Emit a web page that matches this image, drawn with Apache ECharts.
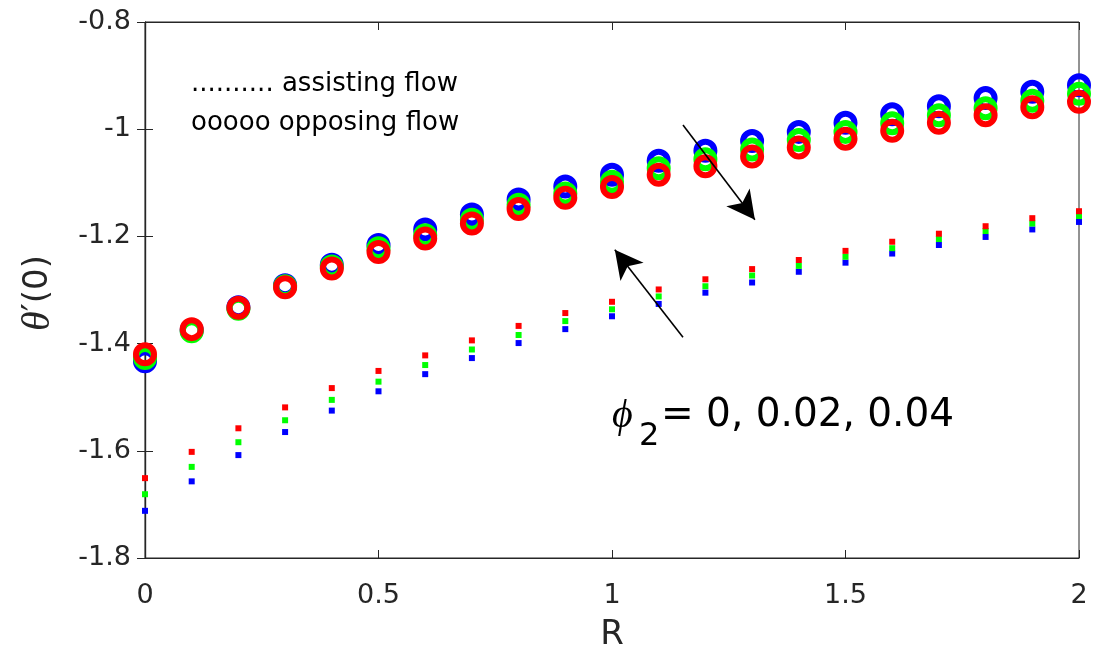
<!DOCTYPE html>
<html>
<head>
<meta charset="utf-8">
<script src="https://cdn.jsdelivr.net/npm/echarts@6/dist/echarts.min.js"></script>
<style>
  html, body { margin: 0; padding: 0; background: #ffffff; }
  #chart { width: 1094px; height: 664px; }
</style>
</head>
<body>
<div id="chart"></div>
<script>
// Buoyancy parameter R along the horizontal axis
const rValues = [0, 0.1, 0.2, 0.3, 0.4, 0.5, 0.6, 0.7, 0.8, 0.9, 1.0,
                 1.1, 1.2, 1.3, 1.4, 1.5, 1.6, 1.7, 1.8, 1.9, 2.0];

// theta'(0), assisting flow, for phi2 = 0, 0.02, 0.04
const assistPhi0 = [-1.712, -1.657, -1.608, -1.565, -1.525, -1.489, -1.457, -1.427, -1.399, -1.373, -1.349,
                    -1.326, -1.305, -1.286, -1.266, -1.249, -1.232, -1.216, -1.201, -1.187, -1.173];
const assistPhi2 = [-1.681, -1.630, -1.584, -1.543, -1.505, -1.471, -1.440, -1.411, -1.384, -1.358, -1.336,
                    -1.312, -1.293, -1.273, -1.255, -1.238, -1.222, -1.205, -1.190, -1.176, -1.162];
const assistPhi4 = [-1.651, -1.602, -1.558, -1.519, -1.483, -1.451, -1.422, -1.394, -1.367, -1.343, -1.322,
                    -1.299, -1.280, -1.261, -1.244, -1.227, -1.210, -1.195, -1.181, -1.166, -1.153];

// theta'(0), opposing flow, for phi2 = 0, 0.02, 0.04
const opposePhi0 = [-1.433, -1.375, -1.332, -1.291, -1.253, -1.216, -1.187, -1.159, -1.131, -1.107, -1.085,
                    -1.059, -1.040, -1.022, -1.005, -0.988, -0.972, -0.957, -0.942, -0.930, -0.918];
const opposePhi2 = [-1.427, -1.377, -1.335, -1.293, -1.256, -1.222, -1.198, -1.169, -1.141, -1.120, -1.098,
                    -1.073, -1.056, -1.038, -1.020, -1.005, -0.989, -0.974, -0.961, -0.947, -0.934];
const opposePhi4 = [-1.420, -1.373, -1.333, -1.295, -1.260, -1.229, -1.204, -1.176, -1.149, -1.128, -1.108,
                    -1.085, -1.069, -1.051, -1.034, -1.018, -1.003, -0.988, -0.974, -0.959, -0.949];

// Axis ranges and ticks
const xMin = 0, xMax = 2, xStep = 0.5;
const yMin = -1.8, yMax = -0.8, yStep = 0.2;

// Arrow annotations in data coordinates: [from, to]
const arrowDown = [[1.152, -0.992], [1.306, -1.169]];
const arrowUp = [[1.152, -1.388], [1.006, -1.225]];

const toPairs = (ys) => rValues.map((r, i) => [r, ys[i]]);
const fmt = (v) => String(Number(v.toFixed(2)));

const FONT = 'DejaVu Sans';
const AXIS_COLOR = '#262626';

function dots(name, ys, color) {
  return {
    name, type: 'scatter', data: toPairs(ys),
    symbol: 'rect', symbolSize: 6,
    itemStyle: { color, opacity: 1 },
    animation: false, silent: true
  };
}
function rings(name, ys, color) {
  return {
    name, type: 'scatter', data: toPairs(ys),
    symbol: 'circle', symbolSize: 18,
    itemStyle: { color: 'rgba(0,0,0,0)', borderColor: color, borderWidth: 6, opacity: 1 },
    animation: false, silent: true
  };
}

const tickStyle = { inside: true, length: 8, lineStyle: { color: AXIS_COLOR, width: 1 } };
const lineStyle = { show: true, lineStyle: { color: AXIS_COLOR, width: 1.2 } };

const arrowLine = (pts) => [
  { coord: pts[0], symbol: 'none' },
  { coord: pts[1], symbol: 'arrow', symbolSize: [22, 28] }
];

const option = {
  backgroundColor: '#ffffff',
  animation: false,
  grid: { left: 145, right: 15, top: 22, bottom: 106, show: true,
          borderColor: AXIS_COLOR, borderWidth: 1, backgroundColor: 'rgba(0,0,0,0)' },
  xAxis: [
    {
      type: 'value', min: xMin, max: xMax, interval: xStep,
      name: 'R', nameLocation: 'middle', nameGap: 60,
      nameTextStyle: { fontFamily: FONT, fontSize: 34, color: AXIS_COLOR },
      axisLine: lineStyle, axisTick: tickStyle, splitLine: { show: false },
      axisLabel: { formatter: fmt, fontFamily: FONT, fontSize: 27, color: AXIS_COLOR, margin: 24 }
    },
    {
      type: 'value', position: 'top', min: xMin, max: xMax, interval: xStep,
      axisLine: lineStyle, axisTick: tickStyle, splitLine: { show: false },
      axisLabel: { show: false }
    }
  ],
  yAxis: [
    {
      type: 'value', min: yMin, max: yMax, interval: yStep,
      axisLine: lineStyle, axisTick: tickStyle, splitLine: { show: false },
      axisLabel: { formatter: fmt, fontFamily: FONT, fontSize: 27, color: AXIS_COLOR, margin: 14 }
    },
    {
      type: 'value', position: 'right', min: yMin, max: yMax, interval: yStep,
      axisLine: lineStyle, axisTick: tickStyle, splitLine: { show: false },
      axisLabel: { show: false }
    }
  ],
  series: [
    dots('assisting, φ2 = 0', assistPhi0, '#0000ff'),
    dots('assisting, φ2 = 0.02', assistPhi2, '#00ff00'),
    dots('assisting, φ2 = 0.04', assistPhi4, '#ff0000'),
    rings('opposing, φ2 = 0', opposePhi0, '#0000ff'),
    rings('opposing, φ2 = 0.02', opposePhi2, '#00ff00'),
    Object.assign(rings('opposing, φ2 = 0.04', opposePhi4, '#ff0000'), {
      markLine: {
        silent: true, animation: false,
        label: { show: false },
        lineStyle: { color: '#000000', width: 1.6, type: 'solid', opacity: 1 },
        itemStyle: { color: '#000000' },
        emphasis: { disabled: true },
        data: [arrowLine(arrowDown), arrowLine(arrowUp)]
      }
    })
  ],
  graphic: [
    {
      type: 'text', x: 38, y: 293, rotation: Math.PI / 2, silent: true,
      style: {
        text: '{th|θ}{pr|′}{n|(0)}',
        align: 'center', verticalAlign: 'middle',
        rich: {
          th: { fontFamily: 'Liberation Serif', fontStyle: 'italic', fontSize: 40, fill: AXIS_COLOR },
          pr: { fontFamily: FONT, fontSize: 36, fill: AXIS_COLOR },
          n: { fontFamily: FONT, fontSize: 34, fill: AXIS_COLOR }
        }
      }
    },
    {
      type: 'text', left: 191, top: 71, silent: true,
      style: { text: '.......... assisting flow', fontFamily: FONT, fontSize: 26, fill: '#000000' }
    },
    {
      type: 'text', left: 191, top: 110, silent: true,
      style: { text: 'ooooo opposing flow', fontFamily: FONT, fontSize: 26, fill: '#000000' }
    },
    {
      type: 'text', left: 612, top: 396, silent: true,
      style: { text: 'ϕ', fontFamily: 'Liberation Serif, DejaVu Serif', fontStyle: 'italic', fontSize: 40, fill: '#000000' }
    },
    {
      type: 'text', left: 639, top: 421, silent: true,
      style: { text: '2', fontFamily: FONT, fontSize: 32, fill: '#000000' }
    },
    {
      type: 'text', left: 661, top: 396, silent: true,
      style: { text: '= 0, 0.02, 0.04', fontFamily: FONT, fontSize: 39, fill: '#000000' }
    }
  ]
};

const chart = echarts.init(document.getElementById('chart'), null, { renderer: 'canvas' });
chart.setOption(option);
</script>
</body>
</html>
